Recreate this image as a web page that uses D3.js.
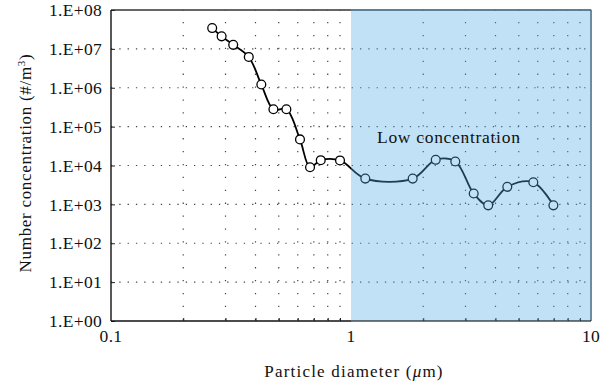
<!DOCTYPE html>
<html><head><meta charset="utf-8">
<script src="https://cdn.jsdelivr.net/npm/d3@7"></script>
<style>body{margin:0;background:#fff}svg{display:block}text{font-family:"Liberation Serif","Times New Roman",serif;fill:#111}</style>
</head><body>
<svg id="c" width="600" height="386"></svg>
<script>
const diameter = [0.264,0.289,0.323,0.375,0.423,0.475,0.538,0.613,0.675,0.748,0.900,1.147,1.807,2.254,2.72,3.245,3.73,4.48,5.75,6.97];
const concentration = [3.43e7,2.1e7,1.27e7,6.2e6,1.21e6,2.79e5,2.79e5,4.69e4,9.0e3,1.37e4,1.35e4,4.6e3,4.6e3,1.4e4,1.27e4,1.9e3,945,2.82e3,3.7e3,945];
const yTickValues = [1,1e1,1e2,1e3,1e4,1e5,1e6,1e7,1e8];
const yTickLabels = ["1.E+00","1.E+01","1.E+02","1.E+03","1.E+04","1.E+05","1.E+06","1.E+07","1.E+08"];
const xTickValues = [0.1,1,10];
const xTickLabels = ["0.1","1","10"];
const regionRange = [1,10];
const regionLabel = "Low concentration";

const svg = d3.select("#c");
const L=111, R=591, T=10, B=321;
const x = d3.scaleLog().domain([0.1,10]).range([L,R]);
const y = d3.scaleLog().domain([1,1e8]).range([B,T]);

const minorX = [];
[0.1,1].forEach(d=>{for(let k=2;k<=9;k++) minorX.push(d*k);});

// grid
const g = svg.append("g");
g.selectAll("line.v").data(minorX).join("line")
  .attr("x1",d=>x(d)).attr("x2",d=>x(d)).attr("y1",T).attr("y2",B)
  .attr("stroke","#444").attr("stroke-width",1.2).attr("stroke-dasharray","1.3,11.6").attr("stroke-dashoffset",-12);
g.selectAll("line.h").data(yTickValues.slice(1,-1)).join("line")
  .attr("x1",L).attr("x2",R).attr("y1",d=>y(d)).attr("y2",d=>y(d))
  .attr("stroke","#444").attr("stroke-width",1.2).attr("stroke-dasharray","1.3,7");

// frame top/right
svg.append("line").attr("x1",L).attr("x2",R).attr("y1",T).attr("y2",T).attr("stroke","#333").attr("stroke-width",1.3);
svg.append("line").attr("x1",R).attr("x2",R).attr("y1",T).attr("y2",B).attr("stroke","#333").attr("stroke-width",1.3);

// axes
const xAxis = svg.append("g").attr("transform",`translate(0,${B})`)
  .call(d3.axisBottom(x).tickValues(minorX).tickSize(-3).tickFormat(""));
xAxis.select(".domain").remove();
xAxis.selectAll("line").attr("stroke","#222");
const yAxis = svg.append("g").attr("transform",`translate(${L},0)`)
  .call(d3.axisLeft(y).tickValues(yTickValues).tickSize(-4).tickFormat(""));
yAxis.select(".domain").remove();
yAxis.selectAll("line").attr("stroke","#222");

// series
const pts = diameter.map((d,i)=>[d,concentration[i]]);
const line = d3.line().x(d=>x(d[0])).y(d=>y(d[1])).curve(d3.curveCatmullRom.alpha(0.5));
svg.append("path").attr("d",line(pts)).attr("fill","none").attr("stroke","#000").attr("stroke-width",1.8);
svg.selectAll("circle.p").data(pts).join("circle")
  .attr("cx",d=>x(d[0])).attr("cy",d=>y(d[1])).attr("r",4.4)
  .attr("fill","#fff").attr("stroke","#000").attr("stroke-width",1.3);

// region overlay
svg.append("rect").attr("x",x(regionRange[0])).attr("y",T-1).attr("width",x(regionRange[1])-x(regionRange[0])+1).attr("height",B-T+1)
  .attr("fill","rgb(80,171,229)").attr("fill-opacity",0.36);

// left/bottom axis lines
svg.append("line").attr("x1",L).attr("x2",L).attr("y1",T).attr("y2",B).attr("stroke","#111").attr("stroke-width",1.4);
svg.append("line").attr("x1",L).attr("x2",x(regionRange[0])).attr("y1",B).attr("y2",B).attr("stroke","#111").attr("stroke-width",1.4);
svg.append("line").attr("x1",x(regionRange[0])).attr("x2",R).attr("y1",B).attr("y2",B).attr("stroke","#111").attr("stroke-width",1.4).attr("stroke-opacity",0.75);

// tick labels
svg.selectAll("text.yt").data(yTickValues).join("text")
  .attr("x",102).attr("y",d=>y(d)).attr("dy","0.35em").attr("text-anchor","end")
  .style("font-size","17.5px").style("letter-spacing","0.3px").text((d,i)=>yTickLabels[i]);
svg.selectAll("text.xt").data(xTickValues).join("text")
  .attr("x",d=>x(d)).attr("y",342).attr("text-anchor","middle")
  .style("font-size","17.5px").style("letter-spacing","0.3px").text((d,i)=>xTickLabels[i]);

// region label
svg.append("text").attr("x",377).attr("y",143).style("font-size","17.5px").style("letter-spacing","0.7px").text(regionLabel);

// axis titles
const xt = svg.append("text").attr("x",354).attr("y",377).attr("text-anchor","middle").style("font-size","17px").style("letter-spacing","1.2px");
xt.append("tspan").text("Particle diameter (");
xt.append("tspan").style("font-style","italic").text("μ");
xt.append("tspan").text("m)");
const yt = svg.append("text").attr("transform","translate(31,163) rotate(-90)").attr("text-anchor","middle").style("font-size","17px").style("letter-spacing","0.7px");
yt.append("tspan").text("Number concentration (#/m");
yt.append("tspan").attr("baseline-shift","super").style("font-size","11px").text("3");
yt.append("tspan").text(")");
</script>
</body></html>
